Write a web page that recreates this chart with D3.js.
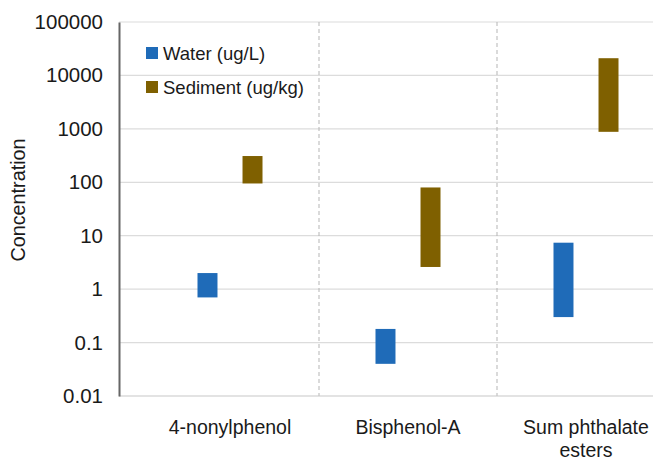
<!DOCTYPE html>
<html>
<head>
<meta charset="utf-8">
<script src="https://cdn.jsdelivr.net/npm/d3@7"></script>
<style>
  body { margin: 0; background: #fff; }
  text { font-family: "Liberation Sans", Arial, sans-serif; fill: #1a1a1a; }
</style>
</head>
<body>
<div id="chart"></div>
<script>
// Chart data (ranges)
var categories = ["4-nonylphenol", "Bisphenol-A", "Sum phthalate esters"];
var seriesNames = ["Water (ug/L)", "Sediment (ug/kg)"];
var waterLow = [0.7, 0.04, 0.3];
var waterHigh = [2, 0.18, 7.4];
var sedimentLow = [95, 2.6, 880];
var sedimentHigh = [310, 80, 21000];
var yTicks = [0.01, 0.1, 1, 10, 100, 1000, 10000, 100000];
var colors = ["#1f6bb8", "#7f6000"];

window.onload = function() {
    var w = 665, h = 462;
    var left = 119, right = 653, top = 22, bottom = 396;

    var svg = d3.select("#chart").append("svg")
        .attr("width", w)
        .attr("height", h);

    var y = d3.scaleLog().domain([0.01, 100000]).range([bottom, top]);

    // category bands (last band runs past the image edge like the original)
    var x = d3.scaleBand().domain(categories).range([141, 675]);
    var bw = x.bandwidth();
    var xSub = d3.scaleBand().domain(seriesNames)
        .range([bw / 2 - 32.5, bw / 2 + 32.5])
        .paddingInner(0.556);

    // horizontal gridlines
    svg.append("g").selectAll("line")
       .data(yTicks.slice(1))
       .enter().append("line")
       .attr("x1", left).attr("x2", right)
       .attr("y1", function(d) { return y(d); })
       .attr("y2", function(d) { return y(d); })
       .attr("stroke", "#dcdcdc")
       .attr("stroke-width", 1.2);

    // dashed dividers between categories
    svg.append("g").selectAll("line")
       .data(categories.slice(1))
       .enter().append("line")
       .attr("x1", function(d) { return x(d); })
       .attr("x2", function(d) { return x(d); })
       .attr("y1", top).attr("y2", bottom)
       .attr("stroke", "#b5b5b5")
       .attr("stroke-dasharray", "4,3");

    // bottom axis line
    svg.append("line")
       .attr("x1", left).attr("x2", right)
       .attr("y1", bottom).attr("y2", bottom)
       .attr("stroke", "#c8c8c8")
       .attr("stroke-width", 1.2);

    // left axis
    var yAxis = d3.axisLeft(y)
        .tickValues(yTicks)
        .tickSize(0)
        .tickPadding(16)
        .tickFormat(function(d) { return d >= 1 ? d3.format("d")(d) : String(d); });
    var ga = svg.append("g")
        .attr("transform", "translate(" + left + ",0)")
        .call(yAxis);
    ga.select(".domain").attr("stroke", "#666").attr("stroke-width", 2);
    ga.selectAll("text")
      .style("font-size", "20.5px")
      .attr("fill", "#1a1a1a");

    // y title
    svg.append("text")
       .attr("transform", "translate(25,200) rotate(-90)")
       .attr("text-anchor", "middle")
       .style("font-size", "19.8px")
       .text("Concentration");

    // floating bars
    var rows = [];
    categories.forEach(function(c, i) {
        rows.push({cat: c, s: seriesNames[0], lo: waterLow[i], hi: waterHigh[i], col: colors[0]});
        rows.push({cat: c, s: seriesNames[1], lo: sedimentLow[i], hi: sedimentHigh[i], col: colors[1]});
    });
    svg.append("g").selectAll("rect")
       .data(rows)
       .enter().append("rect")
       .attr("x", function(d) { return x(d.cat) + xSub(d.s); })
       .attr("width", xSub.bandwidth())
       .attr("y", function(d) { return y(d.hi); })
       .attr("height", function(d) { return y(d.lo) - y(d.hi); })
       .attr("fill", function(d) { return d.col; });

    // category labels (wrapped)
    var labels = svg.append("g").selectAll("text")
       .data(categories)
       .enter().append("text")
       .attr("text-anchor", "middle")
       .attr("y", 434)
       .style("font-size", "19.5px");
    labels.each(function(d) {
        var t = d3.select(this);
        var parts = d === "Sum phthalate esters" ? ["Sum phthalate", "esters"] : [d];
        parts.forEach(function(p, k) {
            t.append("tspan")
             .attr("x", x(d) + bw / 2)
             .attr("dy", k === 0 ? 0 : 23)
             .text(p);
        });
    });

    // legend
    var lg = svg.append("g").attr("transform", "translate(146,47)");
    seriesNames.forEach(function(s, i) {
        lg.append("rect")
          .attr("x", 0).attr("y", i * 34)
          .attr("width", 12).attr("height", 12)
          .attr("fill", colors[i]);
        lg.append("text")
          .attr("x", 17).attr("y", i * 34 + 13)
          .style("font-size", "18.5px")
          .text(s);
    });
};
</script>
</body>
</html>
